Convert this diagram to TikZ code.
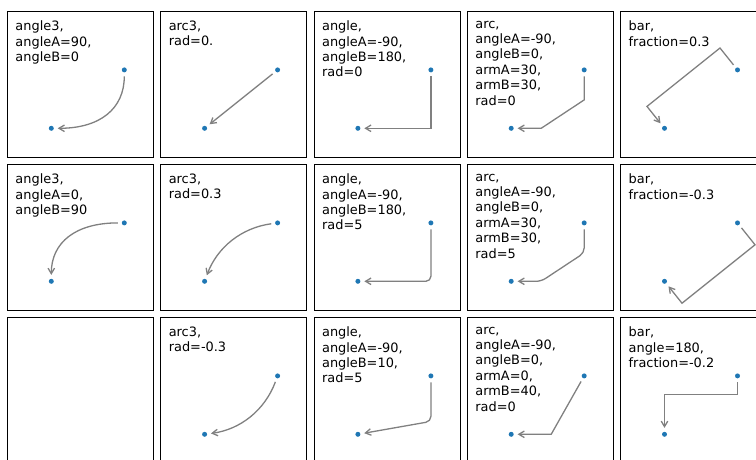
\documentclass[tikz,border=0pt]{standalone}
\usepackage{fontspec}
\setmainfont{DejaVu Sans}
\usetikzlibrary{calc,arrows.meta}
\definecolor{cblue}{HTML}{1F77B4}
\definecolor{cgray}{HTML}{808080}
\tikzset{
 frame/.style={draw=black, line width=1pt, minimum width=146pt, minimum height=146pt, inner sep=0pt, outer sep=0pt},
 dot/.style={circle, fill=cblue, minimum size=5pt, inner sep=0pt},
 lbl/.style={anchor=north west, inner sep=0pt, align=left, font=\fontsize{12.9}{15.4}\selectfont},
 conn/.style={draw=cgray, line width=1.3pt, shorten <=6.4pt, shorten >=6.4pt, -{Straight Barb[length=5.5pt,width=6.5pt]}},
}
\newcommand\mkpanel[5]{%
 \begin{scope}[shift={(#2,#3)}]
 \node[frame] (#1box) at (73,73) {};
 \node[dot] (#1a) at (43.8,29.2) {};
 \node[dot] (#1b) at (116.8,87.6) {};
 \node[lbl] (#1t) at (7.8,136.8) {#4};
 #5
 \end{scope}}
\begin{document}
\begin{tikzpicture}[x=1pt,y=1pt]
\useasboundingbox (0,0) rectangle (756,459);
\clip (0,0) rectangle (756,459);
% row 1
\mkpanel{p11}{7.5}{301.5}{angle3,\\angleA=90,\\angleB=0}{%
 \coordinate (p11q) at (116.8,29.2);
 \draw[conn] (p11b.center) .. controls ($(p11b.center)!2/3!(p11q)$) and ($(p11a.center)!2/3!(p11q)$) .. (p11a.center);}
\mkpanel{p12}{160.8}{301.5}{arc3,\\rad=0.}{%
 \draw[conn] (p12b.center) -- (p12a.center);}
\mkpanel{p13}{314.1}{301.5}{angle,\\angleA=-90,\\angleB=180,\\rad=0}{%
 \draw[conn] (p13b.center) |- (p13a.center);}
\mkpanel{p14}{467.4}{301.5}{arc,\\angleA=-90,\\angleB=0,\\armA=30,\\armB=30,\\rad=0}{%
 \coordinate (p14c) at (116.8,57.6);
 \coordinate (p14d) at (73.8,29.2);
 \draw[conn] (p14b.center) -- (p14c) -- (p14d) -- (p14a.center);}
\mkpanel{p15}{620.7}{301.5}{bar,\\fraction=0.3}{%
 \coordinate (p15c) at (99.28,109.5);
 \coordinate (p15d) at (26.28,51.1);
 \draw[conn] (p15b.center) -- (p15c) -- (p15d) -- (p15a.center);}
% row 2
\mkpanel{p21}{7.5}{148.5}{angle3,\\angleA=0,\\angleB=90}{%
 \coordinate (p21q) at (43.8,87.6);
 \draw[conn] (p21b.center) .. controls ($(p21b.center)!2/3!(p21q)$) and ($(p21a.center)!2/3!(p21q)$) .. (p21a.center);}
\mkpanel{p22}{160.8}{148.5}{arc3,\\rad=0.3}{%
 \coordinate (p22q) at (62.78,80.3);
 \draw[conn] (p22b.center) .. controls ($(p22b.center)!2/3!(p22q)$) and ($(p22a.center)!2/3!(p22q)$) .. (p22a.center);}
\mkpanel{p23}{314.1}{148.5}{angle,\\angleA=-90,\\angleB=180,\\rad=5}{%
 \draw[conn, rounded corners=5pt] (p23b.center) |- (p23a.center);}
\mkpanel{p24}{467.4}{148.5}{arc,\\angleA=-90,\\angleB=0,\\armA=30,\\armB=30,\\rad=5}{%
 \coordinate (p24c) at (116.8,57.6);
 \coordinate (p24d) at (73.8,29.2);
 \draw[conn, rounded corners=5pt] (p24b.center) -- (p24c) -- (p24d) -- (p24a.center);}
\mkpanel{p25}{620.7}{148.5}{bar,\\fraction=-0.3}{%
 \coordinate (p25c) at (134.32,65.7);
 \coordinate (p25d) at (61.32,7.3);
 \draw[conn] (p25b.center) -- (p25c) -- (p25d) -- (p25a.center);}
% row 3
\node[frame] (p31box) at (80.5,68.5) {};
\mkpanel{p32}{160.8}{-4.5}{arc3,\\rad=-0.3}{%
 \coordinate (p32q) at (97.82,36.5);
 \draw[conn] (p32b.center) .. controls ($(p32b.center)!2/3!(p32q)$) and ($(p32a.center)!2/3!(p32q)$) .. (p32a.center);}
\mkpanel{p33}{314.1}{-4.5}{angle,\\angleA=-90,\\angleB=10,\\rad=5}{%
 \coordinate (p33c) at (116.8,42.07);
 \draw[conn, rounded corners=5pt] (p33b.center) -- (p33c) -- (p33a.center);}
\mkpanel{p34}{467.4}{-4.5}{arc,\\angleA=-90,\\angleB=0,\\armA=0,\\armB=40,\\rad=0}{%
 \coordinate (p34c) at (83.8,29.2);
 \draw[conn] (p34b.center) -- (p34c) -- (p34a.center);}
\mkpanel{p35}{620.7}{-4.5}{bar,\\angle=180,\\fraction=-0.2}{%
 \coordinate (p35c) at (116.8,68.9);
 \coordinate (p35d) at (43.8,68.9);
 \draw[conn] (p35b.center) -- (p35c) -- (p35d) -- (p35a.center);}
\end{tikzpicture}
\end{document}
